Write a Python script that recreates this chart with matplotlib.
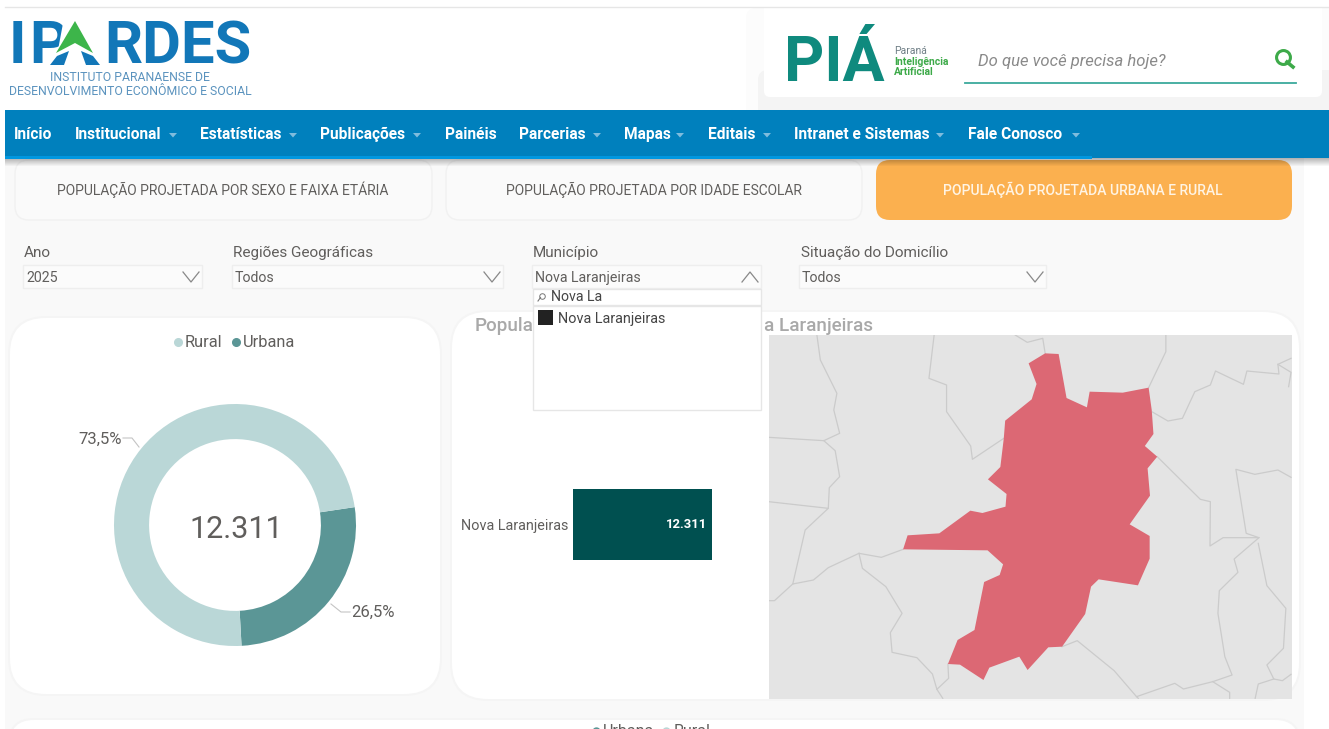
# IPARDES panel screenshot: donut, bar and map with the page chrome around them
import numpy as np
import matplotlib
matplotlib.use("Agg")
import matplotlib.pyplot as plt
from matplotlib.patches import FancyBboxPatch, Rectangle, Polygon

W, H = 1329, 729
plt.rcParams['font.family'] = ['Roboto', 'DejaVu Sans']

# data
situacao = ["Urbana", "Rural"]
situacao_pct = [26.5, 73.5]
donut_colors = ["#5B9696", "#BAD7D7"]
total_pop = 12311
total_label = "12.311"
municipio = ["Nova Laranjeiras"]
municipio_pop = [12311]

nav_items = ["Início", "Institucional", "Estatísticas", "Publicações", "Painéis",
             "Parcerias", "Mapas", "Editais", "Intranet e Sistemas", "Fale Conosco"]
nav_x = [14, 75, 200, 320, 445, 519, 624, 708, 794, 968]
nav_caret = [None, 173, 293, 417, None, 597, 680, 767, 940, 1076]

tabs = ["POPULAÇÃO PROJETADA POR SEXO E FAIXA ETÁRIA",
        "POPULAÇÃO PROJETADA POR IDADE ESCOLAR",
        "POPULAÇÃO PROJETADA URBANA E RURAL"]
filter_labels = ["Ano", "Regiões Geográficas", "Município", "Situação do Domicílio"]
filter_values = ["2025", "Todos", "Nova Laranjeiras", "Todos"]

nova_laranjeiras = [(827,100),(866,102),(889,234),(948,262),(956,215),(1052,218),(1127,203),(1136,270),
    (1141,342),(1116,378),(1152,410),(1124,445),(1131,527),(1072,613),(1130,648),(1130,716),(1096,796),
    (982,778),(960,800),(943,882),(876,980),(836,982),(776,1050),(752,1010),(665,1043),(648,1080),
    (580,1034),(545,1032),(573,960),(622,930),(650,786),(695,765),(705,733),(660,691),(415,688),(428,646),
    (520,640),(610,572),(645,579),(712,560),(715,522),(661,478),(697,441),(707,355),(711,302),(788,238),
    (802,192),(779,130)]
borders = [
    [(165,45),(175,120),(223,220),(214,270),(231,340),(185,362),(25,352)],
    [(185,362),(218,392),(231,470),(201,503),(198,565),(25,545)],
    [(198,565),(131,630),(95,792),(155,780),(198,743),(287,700),(352,712),(415,688)],
    [(95,792),(42,842),(25,842)],
    [(287,700),(297,745),(365,800),(412,880),(378,938),(383,997),(455,1013),(500,1062),(513,1108),(547,1075),(545,1032)],
    [(513,1108),(530,1135)],
    [(505,45),(490,175),(541,195),(541,275),(611,378),(616,418),(707,355)],
    [(740,45),(775,67),(820,55),(827,100)],
    [(1177,45),(1177,95),(1127,203)],
    [(1138,276),(1183,303),(1225,295),(1261,215),(1306,195),(1321,153),(1402,193),(1412,153),(1505,162),(1502,133),(1540,115)],
    [(1502,133),(1540,157),(1533,200)],
    [(1152,410),(1277,538),(1306,545),(1305,678),(1343,653),(1447,653),(1410,640),(1380,448),(1435,463),(1502,450),(1540,472)],
    [(1447,653),(1375,717),(1386,757),(1332,812),(1328,880),(1348,1010),(1369,1065),(1313,1085),(1228,1107),(1203,1090),(1092,1130),(1027,1052),(920,962),(876,980)],
    [(1445,670),(1470,797),(1525,865),(1518,985),(1470,1035),(1490,1077),(1515,1082),(1540,1063)],
    [(1490,1077),(1445,1092),(1436,1135)],
    [(1313,1085),(1362,1117),(1362,1135)],
    [(1092,1130),(1097,1135)],
]

def crop_to_page(pts):
    return np.array(pts) / [2.9, 3.0] + [760, 320]

def add_px_axes(x0, y0, x1, y1, **kw):
    return fig.add_axes([x0 / W, 1 - y1 / H, (x1 - x0) / W, (y1 - y0) / H], **kw)

def rbox(x0, y0, x1, y1, r, fc, ec="none", lw=1, z=1):
    base.add_patch(FancyBboxPatch((x0, y0), x1 - x0, y1 - y0, boxstyle=f"round,pad=0,rounding_size={r}",
                                  fc=fc, ec=ec, lw=lw, zorder=z))

def card(x0, y0, x1, y1, r, z=1):
    # soft edge around the white cards
    rbox(x0 - 2, y0 - 2, x1 + 2, y1 + 2, r + 2, "#F5F5F5", z=z)
    rbox(x0, y0, x1, y1, r, "white", z=z + 0.1)

def txt(x, y, s, size=9.5, color="#605E5C", ha="left", z=5, **kw):
    base.text(x, y, s, fontsize=size, color=color, ha=ha, va="center", zorder=z, **kw)

fig = plt.figure(figsize=(W / 100, H / 100), dpi=100, facecolor="white")
base = fig.add_axes([0, 0, 1, 1])
base.set_xlim(0, W)
base.set_ylim(H, 0)
base.axis("off")

# page background
base.add_patch(Rectangle((5, 158), 1299, H - 158, fc="#F9F9F9", ec="none", zorder=0))
base.plot([5, W], [6.5, 6.5], color="#E6E6E6", lw=1, zorder=3)

# IPARDES logo, the A is a green chevron on two blue feet
logo_blue = "#1277B8"
logo_y = 47
txt(9, logo_y, "I", size=43, color=logo_blue, weight="bold", z=3)
txt(29, logo_y, "P", size=43, color=logo_blue, weight="bold", z=3)
txt(77, logo_y, "A", size=43, color=logo_blue, weight="bold", ha="center", z=3)
txt(252, logo_y, "RDES", size=43, color=logo_blue, weight="bold", ha="right", z=3)
base.add_patch(Polygon([(64, 18), (90, 18), (104, 67), (46, 67), (58, 50)], fc="white", ec="none", zorder=3.5))
base.add_patch(Polygon([(75, 21), (93, 53), (75, 43), (56, 53)], fc="#3DB54A", ec="none", zorder=4))
base.add_patch(Polygon([(57, 56), (69, 51), (64, 65), (50, 65)], fc=logo_blue, ec="none", zorder=4))
base.add_patch(Polygon([(81, 51), (93, 56), (100, 65), (86, 65)], fc=logo_blue, ec="none", zorder=4))
txt(130, 77, "INSTITUTO PARANAENSE DE", size=8.8, color="#5B93BE", ha="center")
txt(130, 91, "DESENVOLVIMENTO ECONÔMICO E SOCIAL", size=8.8, color="#5B93BE", ha="center")

# search card and PIÁ logo
rbox(746, 8, W + 20, 130, 10, "#FCFCFC", z=1)
rbox(758, 70, W + 20, 130, 10, "#F4F4F4", z=1.1)
rbox(764, 0, 1322, 97, 6, "white", z=2)
txt(784, 64, "PIÁ", size=45, color="#0F8A7E", weight="bold", z=3)
txt(894, 51, "Paraná", size=7.5, color="#6F7F86")
txt(894, 61.5, "Inteligência", size=7.5, color="#3DAA49", weight="bold")
txt(894, 72, "Artificial", size=7.5, color="#3DAA49", weight="bold")
txt(978, 61, "Do que você precisa hoje?", size=12, color="#8A8A8A", style="italic")
base.plot([965, 1296], [83, 83], color="#3BA99C", lw=1.3, zorder=3)
base.plot([1283], [57], "o", ms=10, mfc="none", mec="#3DAA49", mew=2.2, zorder=4)
base.plot([1287, 1293], [62, 67], color="#3DAA49", lw=2.6, zorder=4)

# nav bar
for i in range(8):
    base.add_patch(Rectangle((5, 158 + i), W - 5, 1, fc="#000000", alpha=0.28 * (1 - i / 8), ec="none", zorder=8))
base.add_patch(Rectangle((5, 110), W - 5, 48, fc="#0080BD", ec="none", zorder=9))
base.add_patch(Rectangle((5, 156), 1087, 2.5, fc="#0097E0", ec="none", zorder=9))
for name, x, c in zip(nav_items, nav_x, nav_caret):
    txt(x, 134.5, name, size=11.2, color="white", weight="bold", z=10)
    if c is not None:
        base.add_patch(Polygon([(c - 4, 133), (c + 4, 133), (c, 137.5)], fc="#7FBCDD", ec="none", zorder=10))

# tabs
rbox(15, 160, 432, 220, 14, "#FAFAFA", ec="#F1F1F1", z=2)
rbox(446, 160, 862, 220, 14, "#FAFAFA", ec="#F1F1F1", z=2)
rbox(876, 160, 1292, 220, 14, "#FBB04F", z=2)
txt(223, 190, tabs[0], size=10, ha="center")
txt(654, 190, tabs[1], size=10, ha="center")
txt(1083, 190, tabs[2], size=10, color="#FFF4E4", ha="center", weight="medium")

# filters
label_x = [24, 233, 533, 801]
box_x = [(23, 202), (232, 503), (532, 761), (799, 1046)]
for lab, val, lx, (b0, b1), up in zip(filter_labels, filter_values, label_x, box_x, [0, 0, 1, 0]):
    txt(lx, 253, lab, size=11)
    base.add_patch(Rectangle((b0, 265), b1 - b0, 23, fc="#FBFBFB", ec="#EEEEEE", lw=1, zorder=2))
    txt(b0 + 3, 277.5, val, size=10.2)
    cy = [272, 282, 272] if not up else [282, 272, 282]
    base.plot([b1 - 19, b1 - 11, b1 - 3], cy, color="#888888", lw=0.9, zorder=3)

# cards
card(10, 318, 440, 694, 36)
card(452, 312, 1299, 699, 36)
card(10, 720, 1299, 800, 24)

# donut legend
base.plot([178], [342], "o", ms=5.5, color=donut_colors[1], zorder=5)
txt(185, 342, situacao[1], size=11.8)
base.plot([236], [342], "o", ms=5.5, color=donut_colors[0], zorder=5)
txt(243, 342, situacao[0], size=11.8)

# donut
donut = add_px_axes(114, 404, 356, 646)
donut.pie(situacao_pct, colors=donut_colors, startangle=8.5, counterclock=False, radius=1,
          wedgeprops=dict(width=0.29, linewidth=0))
donut.set_xlim(-1, 1)
donut.set_ylim(-1, 1)
donut.text(0.01, -0.04, total_label, fontsize=22, color="#605E5C", ha="center", va="center")
txt(78, 439, "73,5%", size=12)
txt(351, 612, "26,5%", size=12)
base.plot([123, 132, 139], [438, 438, 447], color="#C4C4C4", lw=0.8, zorder=5)
base.plot([331, 341, 350], [604, 612, 612], color="#C4C4C4", lw=0.8, zorder=5)

# chart title, the dropdown covers its middle
txt(475, 326, "Popula", size=13.6, color="#A9A9A9", weight="medium")
txt(873, 326, "a Laranjeiras", size=13.6, color="#A9A9A9", ha="right", weight="medium")

# bar
bar_ax = add_px_axes(573, 489, 712, 560)
bar_ax.barh(municipio, municipio_pop, height=1, color="#005050")
bar_ax.set_xlim(0, total_pop)
bar_ax.set_ylim(-0.5, 0.5)
bar_ax.set_xticks([])
bar_ax.tick_params(axis="y", length=0, pad=3.5, labelsize=10.4, labelcolor="#605E5C")
for s in bar_ax.spines.values():
    s.set_visible(False)
bar_ax.text(municipio_pop[0] * 0.965, 0, total_label, fontsize=9.4, color="white", weight="bold", ha="right", va="center")

# map
map_ax = add_px_axes(769, 335, 1292, 699)
map_ax.set_xlim(769, 1292)
map_ax.set_ylim(699, 335)
map_ax.set_facecolor("#E4E4E4")
map_ax.set_xticks([])
map_ax.set_yticks([])
for s in map_ax.spines.values():
    s.set_visible(False)
for line in borders:
    pts = crop_to_page(line)
    map_ax.plot(pts[:, 0], pts[:, 1], color="#CBCBCB", lw=0.9)
map_ax.add_patch(Polygon(crop_to_page(nova_laranjeiras), fc="#DC6874", ec="none", zorder=3))

# open dropdown
base.add_patch(Rectangle((533, 289), 228, 16, fc="white", ec="#E6E6E6", lw=1, zorder=6))
base.add_patch(Rectangle((533, 306), 228, 104, fc="white", ec="#E6E6E6", lw=1, zorder=6))
base.plot([542], [295.5], "o", ms=4, mfc="none", mec="#777777", mew=0.7, zorder=7)
base.plot([538, 540.5], [301, 297.5], color="#777777", lw=0.8, zorder=7)
txt(551, 297, "Nova La", size=10.2, color="#444444", z=7)
base.add_patch(Rectangle((538, 310), 15, 15, fc="#222222", ec="none", zorder=7))
txt(558, 319, "Nova Laranjeiras", size=10.4, color="#444444", z=7)

# lower card legend, cut by the bottom of the picture
base.plot([596], [731], "o", ms=5, color=donut_colors[0], zorder=5)
txt(603, 731, situacao[0], size=11.5)
base.plot([666], [731], "o", ms=5, color=donut_colors[1], zorder=5)
txt(674, 731, situacao[1], size=11.5)

fig.savefig("out.png", dpi=100)
